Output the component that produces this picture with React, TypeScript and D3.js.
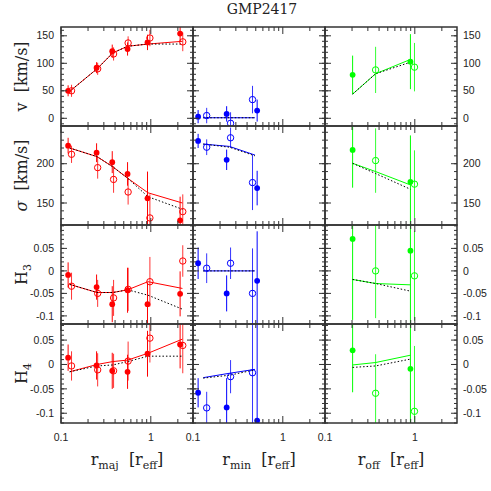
import React from 'react';
import * as d3 from 'd3';

// ---- r_maj (red) ----
const majFillR = [0.12, 0.249, 0.372, 0.551, 0.919, 2.12];
const majOpenR = [0.131, 0.256, 0.385, 0.559, 0.977, 2.27];
const majModelR = [0.125, 0.252, 0.378, 0.553, 0.93, 2.25];

const majVFill = [50, 92, 122, 126, 138, 154];
const majVFillErr = [10, 10, 12, 12, 14, 14];
const majVOpen = [50, 90, 117, 137, 146, 139];
const majVOpenErr = [11, 11, 12, 12, 15, 17];
const majVModel = [49, 90, 119, 131, 135, 140];
const majVModelDot = [49, 90, 119, 131, 135, 135];

const majSFill = [223, 214, 202, 187, 156, 128];
const majSFillErr = [10, 12, 14, 15, 34, 30];
const majSOpen = [212, 195, 180, 164, 131, 139];
const majSOpenErr = [11, 14, 17, 16, 30, 22];
const majSModel = [220, 209, 196, 181.5, 163, 150];
const majSModelDot = [220, 209, 196, 181.5, 158, 142];

const majH3Fill = [-0.009, -0.036, -0.074, -0.043, -0.074, -0.051];
const majH3FillErr = [0.028, 0.028, 0.04, 0.05, 0.048, 0.05];
const majH3Open = [-0.034, -0.05, -0.06, -0.041, -0.024, 0.022];
const majH3OpenErr = [0.03, 0.03, 0.04, 0.048, 0.055, 0.035];
const majH3Model = [-0.03, -0.048, -0.048, -0.042, -0.024, -0.039];
const majH3ModelDot = [-0.03, -0.048, -0.048, -0.042, -0.054, -0.085];

const majH4Fill = [0.014, -0.002, -0.013, -0.015, 0.022, 0.041];
const majH4FillErr = [0.027, 0.029, 0.037, 0.035, 0.047, 0.049];
const majH4Open = [-0.003, -0.011, -0.013, 0.007, 0.054, 0.039];
const majH4OpenErr = [0.03, 0.034, 0.035, 0.04, 0.05, 0.057];
const majH4Model = [-0.015, 0.0, 0.006, 0.009, 0.023, 0.052];
const majH4ModelDot = [-0.015, -0.003, -0.001, 0.006, 0.017, 0.017];

// ---- r_min (blue) ----
const minFillR = [0.114, 0.237, 0.518];
const minOpenR = [0.142, 0.262, 0.46];
const minModelR = [0.13, 0.255, 0.49];

const minVFill = [3, 8, 14];
const minVFillErr = [12, 14, 20];
const minVOpen = [5, -9, 34];
const minVOpenErr = [14, 20, 25];
const minVModel = [1, 1, 1];
const minVModelDot = [1, 1, 1];

const minSFill = [229, 205, 169];
const minSFillErr = [9, 13, 22];
const minSOpen = [221, 233, 176];
const minSOpenErr = [10, 13, 35];
const minSModel = [225, 222, 211];
const minSModelDot = [225, 221, 210];

const minH3Fill = [0.017, -0.05, -0.022];
const minH3FillErr = [0.035, 0.04, 0.11];
const minH3Open = [0.006, 0.017, -0.05];
const minH3OpenErr = [0.033, 0.035, 0.1];
const minH3Model = [0, 0, 0];
const minH3ModelDot = [0, 0, 0];

const minH4Fill = [-0.058, -0.088, -0.115];
const minH4FillErr = [0.03, 0.06, 0.2];
const minH4Open = [-0.089, -0.025, -0.017];
const minH4OpenErr = [0.033, 0.034, 0.15];
const minH4Model = [-0.027, -0.018, -0.01];
const minH4ModelDot = [-0.028, -0.022, -0.011];

// ---- r_off (green) ----
const offFillR = [0.203, 0.894];
const offOpenR = [0.366, 0.992];
const offModelR = [0.203, 0.366, 0.894];

const offVFill = [79, 103];
const offVFillErr = [35, 50];
const offVOpen = [88, 93];
const offVOpenErr = [42, 44];
const offVModel = [44, 81, 107];
const offVModelDot = [44, 81, 102];

const offSFill = [217.5, 177];
const offSFillErr = [48, 59];
const offSOpen = [204, 174];
const offSOpenErr = [41, 43];
const offSModel = [200.5, 190, 173];
const offSModelDot = [200.5, 187.5, 167.5];

const offH3Fill = [0.071, 0.045];
const offH3FillErr = [0.18, 0.2];
const offH3Open = [0.0, -0.011];
const offH3OpenErr = [0.105, 0.1];
const offH3Model = [-0.019, -0.028, -0.031];
const offH3ModelDot = [-0.019, -0.028, -0.045];

const offH4Fill = [0.029, -0.009];
const offH4FillErr = [0.086, 0.15];
const offH4Open = [-0.059, -0.096];
const offH4OpenErr = [0.08, 0.134];
const offH4Model = [-0.001, 0.004, 0.019];
const offH4ModelDot = [-0.006, -0.003, 0.011];

// tick labels
const vTicks = [0, 50, 100, 150];
const vTickLabels = ['0', '50', '100', '150'];
const sTicks = [150, 200];
const sTickLabels = ['150', '200'];
const hTicks = [-0.1, -0.05, 0, 0.05];
const hTickLabels = ['-0.1', '-0.05', '0', '0.05'];
const xTicks = [0.1, 1];
const xTickLabels = ['0.1', '1'];
const xMinor = [0.2, 0.3, 0.4, 0.5, 0.6, 0.7, 0.8, 0.9, 2];

// layout
const X0 = 61, PW = 132, Y0 = 27, PH = 99;
const AX = '#333';
const SANS = '"Liberation Sans", Arial, sans-serif';
const SERIF = '"DejaVu Serif", serif';

const rows = [
  { domain: [-14, 166], ticks: vTicks, labels: vTickLabels, minorStep: 10 },
  { domain: [122, 248], ticks: sTicks, labels: sTickLabels, minorStep: 10 },
  { domain: [-0.118, 0.102], ticks: hTicks, labels: hTickLabels, minorStep: 0.01 },
  { domain: [-0.12, 0.083], ticks: hTicks, labels: hTickLabels, minorStep: 0.01 },
];

const cols = [
  {
    color: '#ff0000', fillR: majFillR, openR: majOpenR, modelR: majModelR, sub: 'maj',
    fill: [majVFill, majSFill, majH3Fill, majH4Fill],
    fillErr: [majVFillErr, majSFillErr, majH3FillErr, majH4FillErr],
    open: [majVOpen, majSOpen, majH3Open, majH4Open],
    openErr: [majVOpenErr, majSOpenErr, majH3OpenErr, majH4OpenErr],
    model: [majVModel, majSModel, majH3Model, majH4Model],
    modelDot: [majVModelDot, majSModelDot, majH3ModelDot, majH4ModelDot],
  },
  {
    color: '#0000ff', fillR: minFillR, openR: minOpenR, modelR: minModelR, sub: 'min',
    fill: [minVFill, minSFill, minH3Fill, minH4Fill],
    fillErr: [minVFillErr, minSFillErr, minH3FillErr, minH4FillErr],
    open: [minVOpen, minSOpen, minH3Open, minH4Open],
    openErr: [minVOpenErr, minSOpenErr, minH3OpenErr, minH4OpenErr],
    model: [minVModel, minSModel, minH3Model, minH4Model],
    modelDot: [minVModelDot, minSModelDot, minH3ModelDot, minH4ModelDot],
  },
  {
    color: '#00ff00', fillR: offFillR, openR: offOpenR, modelR: offModelR, sub: 'off',
    fill: [offVFill, offSFill, offH3Fill, offH4Fill],
    fillErr: [offVFillErr, offSFillErr, offH3FillErr, offH4FillErr],
    open: [offVOpen, offSOpen, offH3Open, offH4Open],
    openErr: [offVOpenErr, offSOpenErr, offH3OpenErr, offH4OpenErr],
    model: [offVModel, offSModel, offH3Model, offH4Model],
    modelDot: [offVModelDot, offSModelDot, offH3ModelDot, offH4ModelDot],
  },
];

function Panel({ ci, ri }: { ci: number; ri: number }) {
  const c = cols[ci];
  const r = rows[ri];
  const x0 = X0 + ci * PW, y0 = Y0 + ri * PH;
  const x = d3.scaleLog().domain([0.1, 2.95]).range([x0, x0 + PW]);
  const y = d3.scaleLinear().domain(r.domain).range([y0 + PH, y0]);
  const clipId = `clip-${ci}-${ri}`;
  const line = d3.line<number>().x((_, i) => x(c.modelR[i])).y(d => y(d));
  const minor = d3.range(Math.ceil(r.domain[0] / r.minorStep) * r.minorStep, r.domain[1], r.minorStep);
  const fv = c.fill[ri], fe = c.fillErr[ri], ov = c.open[ri], oe = c.openErr[ri];

  return (
    <g>
      <defs>
        <clipPath id={clipId}>
          <rect x={x0} y={y0} width={PW} height={PH} />
        </clipPath>
      </defs>
      <g clipPath={`url(#${clipId})`}>
        {fv.map((v, i) => (
          <line key={'fe' + i} x1={x(c.fillR[i])} x2={x(c.fillR[i])} y1={y(v - fe[i])} y2={y(v + fe[i])} stroke={c.color} strokeWidth={1} />
        ))}
        {ov.map((v, i) => (
          <line key={'oe' + i} x1={x(c.openR[i])} x2={x(c.openR[i])} y1={y(v - oe[i])} y2={y(v + oe[i])} stroke={c.color} strokeWidth={1} strokeOpacity={0.8} />
        ))}
        <path d={line(c.model[ri]) || ''} fill="none" stroke={c.color} strokeWidth={1} />
        <path d={line(c.modelDot[ri]) || ''} fill="none" stroke="#000" strokeWidth={1} strokeDasharray="1.5,2" />
        {fv.map((v, i) => (
          <circle key={'f' + i} cx={x(c.fillR[i])} cy={y(v)} r={2.9} fill={c.color} />
        ))}
        {ov.map((v, i) => (
          <circle key={'o' + i} cx={x(c.openR[i])} cy={y(v)} r={3.2} fill="none" stroke={c.color} strokeWidth={1} />
        ))}
      </g>
      {/* y ticks */}
      {minor.map((t, i) => (
        <g key={'ym' + i}>
          <line x1={x0} x2={x0 + 3} y1={y(t)} y2={y(t)} stroke={AX} />
          <line x1={x0 + PW - 3} x2={x0 + PW} y1={y(t)} y2={y(t)} stroke={AX} />
        </g>
      ))}
      {r.ticks.map((t, i) => (
        <g key={'yM' + i}>
          <line x1={x0} x2={x0 + 6} y1={y(t)} y2={y(t)} stroke={AX} />
          <line x1={x0 + PW - 6} x2={x0 + PW} y1={y(t)} y2={y(t)} stroke={AX} />
        </g>
      ))}
      {/* x ticks */}
      {xMinor.map((t, i) => (
        <g key={'xm' + i}>
          <line x1={x(t)} x2={x(t)} y1={y0} y2={y0 + 4} stroke={AX} />
          <line x1={x(t)} x2={x(t)} y1={y0 + PH - 4} y2={y0 + PH} stroke={AX} />
        </g>
      ))}
      {xTicks.map((t, i) => (
        <g key={'xM' + i}>
          <line x1={x(t)} x2={x(t)} y1={y0} y2={y0 + 7} stroke={AX} />
          <line x1={x(t)} x2={x(t)} y1={y0 + PH - 7} y2={y0 + PH} stroke={AX} />
        </g>
      ))}
      <rect x={x0} y={y0} width={PW} height={PH} fill="none" stroke={AX} strokeWidth={1.5} />
      {ci === 0 && r.ticks.map((t, i) => (
        <text key={'yl' + i} x={x0 - 7} y={y(t)} dy="0.35em" textAnchor="end" fontFamily={SANS} fontSize={10.5} fill="#222">{r.labels[i]}</text>
      ))}
      {ci === 2 && r.ticks.map((t, i) => (
        <text key={'yr' + i} x={x0 + PW + 6} y={y(t)} dy="0.35em" textAnchor="start" fontFamily={SANS} fontSize={10.5} fill="#222">{r.labels[i]}</text>
      ))}
      {ri === 3 && xTicks.map((t, i) => (
        <text key={'xl' + i} x={x(t)} y={441} textAnchor="middle" fontFamily={SANS} fontSize={10.5} fill="#222">{xTickLabels[i]}</text>
      ))}
    </g>
  );
}

const yTitles = [
  { main: 'v', sub: '', rest: '\u00a0\u00a0[km/s]', italic: false },
  { main: '\u03c3', sub: '', rest: '\u00a0\u00a0[km/s]', italic: true },
  { main: 'H', sub: '3', rest: '', italic: false },
  { main: 'H', sub: '4', rest: '', italic: false },
];

export default function App() {
  return (
    <svg width={491} height={491} style={{ position: 'absolute', left: 0, top: 0, background: '#fff' }}>
      <rect width={491} height={491} fill="#fff" />
      <text x={262} y={14} textAnchor="middle" fontFamily={SERIF} fontSize={14} fill="#222">GMP2417</text>
      {cols.map((_, ci) => rows.map((__, ri) => <Panel key={ci + '-' + ri} ci={ci} ri={ri} />))}
      {yTitles.map((t, ri) => (
        <g key={'yt' + ri} transform={`translate(27,${Y0 + ri * PH + PH / 2}) rotate(-90)`}>
          <text x={0} y={0} textAnchor="middle" fontFamily={SERIF} fontSize={16} fill="#222">
            <tspan fontStyle={t.italic ? 'italic' : 'normal'}>{t.main}</tspan>
            {t.sub && <tspan fontSize={11} dy={4}>{t.sub}</tspan>}
            {t.rest && <tspan>{t.rest}</tspan>}
          </text>
        </g>
      ))}
      {cols.map((c, ci) => (
        <text key={'xt' + ci} x={X0 + ci * PW + PW / 2} y={465} textAnchor="middle" fontFamily={SERIF} fontSize={16} fill="#222">
          r<tspan fontSize={11} dy={4}>{c.sub}</tspan>
          <tspan dy={-4}>{'\u00a0\u00a0[r'}</tspan>
          <tspan fontSize={11} dy={4}>eff</tspan>
          <tspan dy={-4}>]</tspan>
        </text>
      ))}
    </svg>
  );
}
